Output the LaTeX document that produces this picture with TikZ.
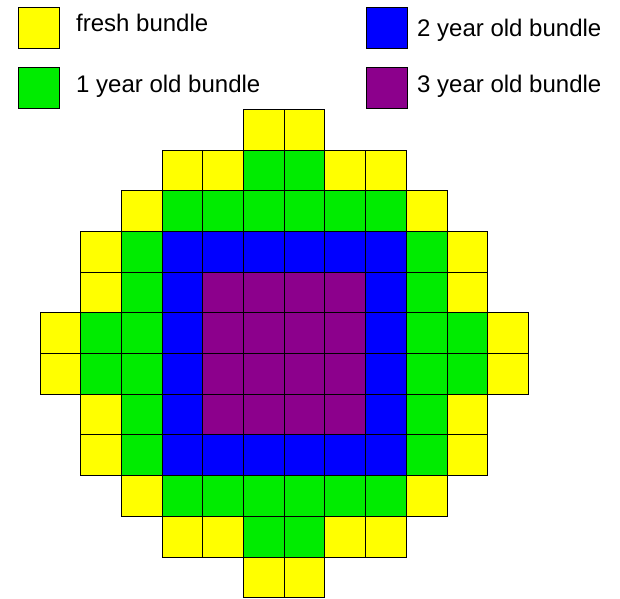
\documentclass[tikz,border=0pt]{standalone}
\usepackage{fontspec}
\setmainfont{Liberation Sans}
\definecolor{cY}{RGB}{255,255,0}
\definecolor{cG}{RGB}{0,236,0}
\definecolor{cB}{RGB}{0,0,255}
\definecolor{cP}{RGB}{140,0,140}
\newcommand\gridrow[3]{%
  \foreach \cc [count=\ii from 0] in {#3}{%
    \draw[cell, fill=c\cc] ({40+(#2+\ii)*40.7},{109.3+#1*40.7}) rectangle ++(40.7,40.7);}}
\begin{document}
\begin{tikzpicture}[x=1bp,y=-1bp,
  cell/.style={draw=black, line width=0.9bp},
  legtext/.style={anchor=base west, inner sep=0pt, font=\fontsize{24bp}{28bp}\selectfont}]
\useasboundingbox (0,0) rectangle (620,599);
% legend
\draw[cell, fill=cY] (18,7) rectangle (59,48);
\draw[cell, fill=cG] (18,67) rectangle (59,108);
\draw[cell, fill=cB] (366,7) rectangle (407,48);
\draw[cell, fill=cP] (366,67) rectangle (407,108);
\node[legtext] (lfresh) at (76,32) {fresh bundle};
\node[legtext] (lone) at (76,93) {1 year old bundle};
\node[legtext] (ltwo) at (417,37) {2 year old bundle};
\node[legtext] (lthree) at (417,93) {3 year old bundle};
% core grid
\gridrow{0}{5}{Y,Y}
\gridrow{1}{3}{Y,Y,G,G,Y,Y}
\gridrow{2}{2}{Y,G,G,G,G,G,G,Y}
\gridrow{3}{1}{Y,G,B,B,B,B,B,B,G,Y}
\gridrow{4}{1}{Y,G,B,P,P,P,P,B,G,Y}
\gridrow{5}{0}{Y,G,G,B,P,P,P,P,B,G,G,Y}
\gridrow{6}{0}{Y,G,G,B,P,P,P,P,B,G,G,Y}
\gridrow{7}{1}{Y,G,B,P,P,P,P,B,G,Y}
\gridrow{8}{1}{Y,G,B,B,B,B,B,B,G,Y}
\gridrow{9}{2}{Y,G,G,G,G,G,G,Y}
\gridrow{10}{3}{Y,Y,G,G,Y,Y}
\gridrow{11}{5}{Y,Y}
\end{tikzpicture}
\end{document}
